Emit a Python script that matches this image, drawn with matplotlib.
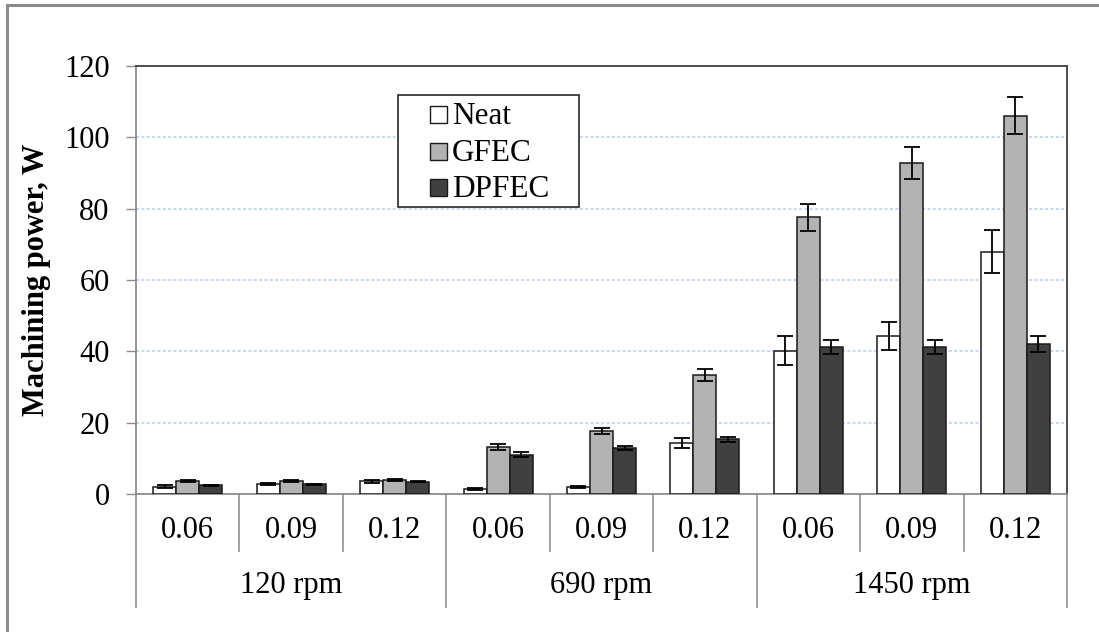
import matplotlib
matplotlib.use("Agg")
import matplotlib.pyplot as plt
from matplotlib.patches import Rectangle
import numpy as np

plt.rcParams['font.family'] = ['Liberation Serif', 'DejaVu Serif']

# Data
speeds = ["120 rpm", "690 rpm", "1450 rpm"]
feeds = ["0.06", "0.09", "0.12"]
series_names = ["Neat", "GFEC", "DPFEC"]

neat = [2.1, 2.8, 3.6, 1.4, 2.0, 14.4, 40.2, 44.3, 67.9]
neat_err = [0.3, 0.3, 0.4, 0.2, 0.2, 1.4, 4.0, 4.0, 6.0]
gfec = [3.6, 3.6, 4.0, 13.2, 17.6, 33.4, 77.6, 92.7, 106.0]
gfec_err = [0.3, 0.3, 0.3, 0.8, 0.8, 1.6, 3.8, 4.5, 5.2]
dpfec = [2.4, 2.7, 3.5, 11.0, 12.9, 15.3, 41.3, 41.3, 42.0]
dpfec_err = [0.2, 0.2, 0.2, 0.7, 0.5, 0.8, 2.0, 2.0, 2.2]

y_ticks = [0, 20, 40, 60, 80, 100, 120]

W, H = 1099, 632
FS = 22


def fx(px):
    return px / W


def fy(py):
    return (H - py) / H


fig = plt.figure(figsize=(W / 100, H / 100), dpi=100)

# outer frame
fig.patches.append(Rectangle((fx(7), -0.05), 1.2, fy(5) + 0.05,
                             transform=fig.transFigure, fill=False,
                             edgecolor="#8c8c8c", lw=2.2))

L, R, T, B = 136, 1067, 66, 494
ax = fig.add_axes([fx(L), fy(B), fx(R - L), (B - T) / H])

x = np.arange(len(neat))
bw = 0.2225
colors = ["#ffffff", "#b3b3b3", "#404040"]
vals = [neat, gfec, dpfec]
errs = [neat_err, gfec_err, dpfec_err]
for i, (v, e, c, n) in enumerate(zip(vals, errs, colors, series_names)):
    ax.bar(x + (i - 1) * bw, v, bw, color=c, edgecolor="#1a1a1a",
           linewidth=1.1, label=n, zorder=3)
    ax.errorbar(x + (i - 1) * bw, v, yerr=e, fmt="none", ecolor="black",
                elinewidth=1.3, capsize=5.5, capthick=1.3, zorder=4)

ax.set_xlim(-0.5, len(neat) - 0.5)
ax.set_ylim(0, 120)
ax.set_yticks(y_ticks)
ax.set_yticklabels([str(t) for t in y_ticks], fontsize=FS)
ax.tick_params(axis="y", length=7, width=1, color="#8c8c8c", pad=12)
ax.set_xticks([])

for yv in y_ticks[1:-1]:
    ax.axhline(yv, color="#b9cde8", lw=1.1, ls=(0, (2, 1.5)), zorder=1)

for side in ["left", "bottom"]:
    ax.spines[side].set_color("#8c8c8c")
    ax.spines[side].set_linewidth(1.3)
for side in ["top", "right"]:
    ax.spines[side].set_color("#404040")
    ax.spines[side].set_linewidth(1.3)

fig.text(fx(37), fy(280), "Machining power, W", rotation=90, ha="center",
         va="center", fontsize=FS, fontweight="bold")

# two-level category axis
trans = ax.get_xaxis_transform()
ph = B - T
y_row1 = -(551 - B) / ph
y_row2 = -(607 - B) / ph
for k in range(1, len(neat)):
    if k % 3 != 0:
        ax.plot([k - 0.5, k - 0.5], [0, y_row1], transform=trans,
                color="#9a9a9a", lw=1.3, clip_on=False)
for k in range(0, len(neat) + 1, 3):
    ax.plot([k - 0.5, k - 0.5], [0, y_row2], transform=trans,
            color="#9a9a9a", lw=1.3, clip_on=False)

for k in range(len(neat)):
    ax.text(k, -(531 - B) / ph, feeds[k % 3], transform=trans,
            ha="center", va="center", fontsize=FS)
for g, s in enumerate(speeds):
    ax.text(3 * g + 1, -(586 - B) / ph, s, transform=trans,
            ha="center", va="center", fontsize=FS)

# legend box with swatches
fig.patches.append(Rectangle((fx(398), fy(207)), fx(579 - 398), (207 - 95) / H,
                             transform=fig.transFigure, facecolor="white",
                             edgecolor="#262626", lw=1.2, zorder=5))
baselines = [124, 161, 197]
for n, c, yb in zip(series_names, colors, baselines):
    fig.patches.append(Rectangle((fx(430), fy(yb - 1)), fx(17), 17 / H,
                                 transform=fig.transFigure, facecolor=c,
                                 edgecolor="#1a1a1a", lw=1.0, zorder=6))
    fig.text(fx(452), fy(yb), n, ha="left", va="baseline",
             fontsize=FS + 0.5, zorder=7)

fig.savefig("out.png", dpi=100)
